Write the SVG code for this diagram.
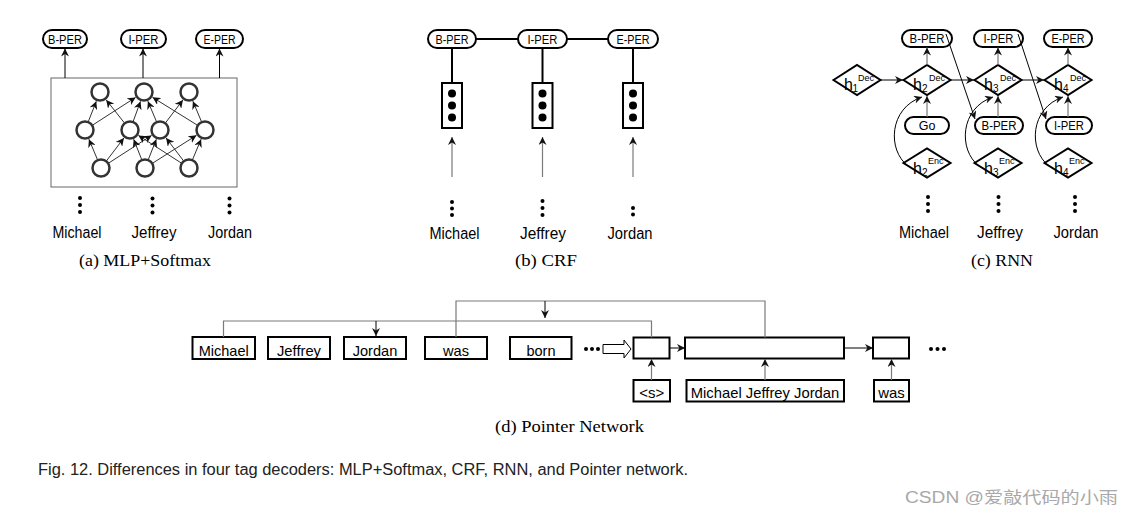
<svg xmlns="http://www.w3.org/2000/svg" width="1132" height="515" viewBox="0 0 1132 515">
<defs>
<marker id="ah" viewBox="0 0 10 10" refX="10" refY="5" markerWidth="8" markerHeight="8" orient="auto" markerUnits="userSpaceOnUse"><path d="M0,0 L10,5 L0,10 L3,5 z" fill="#111"/></marker>
<style>
.pill{fill:#fff;stroke:#000;stroke-width:2}
.box{fill:#fff;stroke:#000;stroke-width:2}
.t{font-family:"Liberation Sans",Arial,sans-serif;fill:#000}
.pt{font-size:12.5px}
.wd{font-size:16px}
.neu{fill:#fff;stroke:#333;stroke-width:2.5}
.e{stroke:#333;stroke-width:1;fill:none;marker-end:url(#ah)}
.g{stroke:#7a7a7a;stroke-width:1.2;fill:none}
.ga{stroke:#7a7a7a;stroke-width:1.2;fill:none;marker-end:url(#ah)}
.ka{stroke:#000;stroke-width:1;fill:none;marker-end:url(#ah)}
.k2{stroke:#000;stroke-width:2;fill:none}
.dm{fill:#fff;stroke:#000;stroke-width:2}
.sub{font-family:"Liberation Serif","Times New Roman",serif;font-size:17px;fill:#000}
.dot{fill:#000}
</style>
</defs>
<rect width="1132" height="515" fill="#fff"/>

<!-- (a) MLP+Softmax -->
<g id="mlp">
<rect x="51" y="78" width="186" height="109" fill="#fff" stroke="#666" stroke-width="1"/>
<g id="mlp-edges">
<line class="e" x1="88.3" y1="121.6" x2="96.3" y2="101.3"/>
<line class="e" x1="92.6" y1="125.1" x2="135.6" y2="97.4"/>
<line class="e" x1="124.4" y1="122.9" x2="106.2" y2="99.9"/>
<line class="e" x1="133.1" y1="121.6" x2="140.5" y2="101.4"/>
<line class="e" x1="156.5" y1="121.7" x2="147.9" y2="101.2"/>
<line class="e" x1="165.5" y1="122.8" x2="182.9" y2="100"/>
<line class="e" x1="197.4" y1="125.2" x2="152.5" y2="97.3"/>
<line class="e" x1="201.5" y1="121.7" x2="192.9" y2="101.2"/>
<line class="e" x1="97.5" y1="159.7" x2="88.9" y2="139.2"/>
<line class="e" x1="106.5" y1="160.8" x2="123.9" y2="138"/>
<line class="e" x1="108.6" y1="163.1" x2="151.6" y2="135.4"/>
<line class="e" x1="141.7" y1="159.6" x2="133.7" y2="139.3"/>
<line class="e" x1="148.3" y1="159.6" x2="156.3" y2="139.3"/>
<line class="e" x1="152.6" y1="163.2" x2="196.5" y2="135.3"/>
<line class="e" x1="181.4" y1="163.1" x2="138.4" y2="135.4"/>
<line class="e" x1="183.5" y1="160.8" x2="166.1" y2="138"/>
<line class="e" x1="192.5" y1="159.7" x2="201.1" y2="139.2"/>
</g>
<g id="mlp-neurons">
<circle class="neu" cx="100" cy="92" r="8.5"/>
<circle class="neu" cx="144" cy="92" r="8.5"/>
<circle class="neu" cx="189" cy="92" r="8.5"/>
<circle class="neu" cx="85" cy="130" r="8.5"/>
<circle class="neu" cx="130" cy="130" r="8.5"/>
<circle class="neu" cx="160" cy="130" r="8.5"/>
<circle class="neu" cx="205" cy="130" r="8.5"/>
<circle class="neu" cx="101" cy="168" r="8.5"/>
<circle class="neu" cx="145" cy="168" r="8.5"/>
<circle class="neu" cx="189" cy="168" r="8.5"/>
</g>
</g>
<g id="mlp-bper"><rect class="pill" x="43" y="30" width="44" height="18" rx="9"/><text class="t pt" x="65" y="43.5" text-anchor="middle" textLength="34" lengthAdjust="spacingAndGlyphs">B-PER</text></g>
<g id="mlp-iper"><rect class="pill" x="121" y="30" width="45" height="18" rx="9"/><text class="t pt" x="143.5" y="43.5" text-anchor="middle" textLength="30" lengthAdjust="spacingAndGlyphs">I-PER</text></g>
<g id="mlp-eper"><rect class="pill" x="196" y="30" width="47" height="18" rx="9"/><text class="t pt" x="219.5" y="43.5" text-anchor="middle" textLength="32" lengthAdjust="spacingAndGlyphs">E-PER</text></g>
<g id="mlp-words">
<circle class="dot" cx="80" cy="198" r="2"/><circle class="dot" cx="80" cy="205" r="2"/><circle class="dot" cx="80" cy="212" r="2"/>
<circle class="dot" cx="152.5" cy="198.5" r="2"/><circle class="dot" cx="152.5" cy="205.5" r="2"/><circle class="dot" cx="152.5" cy="212.5" r="2"/>
<circle class="dot" cx="229.5" cy="198.5" r="2"/><circle class="dot" cx="229.5" cy="205.5" r="2"/><circle class="dot" cx="229.5" cy="212.5" r="2"/>
<text class="t wd" x="77" y="238" text-anchor="middle" textLength="49" lengthAdjust="spacingAndGlyphs">Michael</text>
<text class="t wd" x="154" y="238" text-anchor="middle" textLength="45" lengthAdjust="spacingAndGlyphs">Jeffrey</text>
<text class="t wd" x="230" y="238" text-anchor="middle" textLength="44" lengthAdjust="spacingAndGlyphs">Jordan</text>
<text class="sub" x="145" y="266" text-anchor="middle" textLength="132" lengthAdjust="spacingAndGlyphs">(a)  MLP+Softmax</text>
</g>

<!-- (b) CRF -->
<g id="crf-bper"><rect class="pill" x="428" y="30" width="48" height="18" rx="9"/><text class="t pt" x="452" y="43.5" text-anchor="middle" textLength="33" lengthAdjust="spacingAndGlyphs">B-PER</text></g>
<g id="crf-iper"><rect class="pill" x="518" y="30" width="49" height="18" rx="9"/><text class="t pt" x="542.5" y="43.5" text-anchor="middle" textLength="30" lengthAdjust="spacingAndGlyphs">I-PER</text></g>
<g id="crf-eper"><rect class="pill" x="608" y="30" width="50" height="18" rx="9"/><text class="t pt" x="633" y="43.5" text-anchor="middle" textLength="33" lengthAdjust="spacingAndGlyphs">E-PER</text></g>
<g id="crf-f1"><rect class="box" x="442" y="83" width="20" height="45"/><circle class="dot" cx="452" cy="93.5" r="4"/><circle class="dot" cx="452" cy="105.5" r="4"/><circle class="dot" cx="452" cy="117.5" r="4"/></g>
<g id="crf-f2"><rect class="box" x="532.5" y="83" width="20" height="45"/><circle class="dot" cx="542.5" cy="93.5" r="4"/><circle class="dot" cx="542.5" cy="105.5" r="4"/><circle class="dot" cx="542.5" cy="117.5" r="4"/></g>
<g id="crf-f3"><rect class="box" x="623" y="83" width="20" height="45"/><circle class="dot" cx="633" cy="93.5" r="4"/><circle class="dot" cx="633" cy="105.5" r="4"/><circle class="dot" cx="633" cy="117.5" r="4"/></g>
<g id="crf-words">
<circle class="dot" cx="452" cy="202" r="2"/><circle class="dot" cx="452" cy="208.5" r="2"/><circle class="dot" cx="452" cy="215" r="2"/>
<circle class="dot" cx="542.5" cy="201" r="2"/><circle class="dot" cx="542.5" cy="208" r="2"/><circle class="dot" cx="542.5" cy="215" r="2"/>
<circle class="dot" cx="633" cy="208" r="2"/><circle class="dot" cx="633" cy="214.5" r="2"/>
<text class="t wd" x="454.5" y="238.5" text-anchor="middle" textLength="50" lengthAdjust="spacingAndGlyphs">Michael</text>
<text class="t wd" x="543" y="238.5" text-anchor="middle" textLength="46" lengthAdjust="spacingAndGlyphs">Jeffrey</text>
<text class="t wd" x="630" y="238.5" text-anchor="middle" textLength="45" lengthAdjust="spacingAndGlyphs">Jordan</text>
<text class="sub" x="546" y="266" text-anchor="middle" textLength="62" lengthAdjust="spacingAndGlyphs">(b)  CRF</text>
</g>

<!-- (c) RNN -->
<g id="rnn-h1dec"><polygon class="dm" points="833.5,80 857,65 880.5,80 857,95"/><text class="t" x="844" y="90" font-size="16">h</text><text class="t" x="852.5" y="92" font-size="10">1</text><text class="t" x="858" y="81" font-size="9">Dec</text></g>
<g id="rnn-h2dec"><polygon class="dm" points="903.5,80 927,65 950.5,80 927,95"/><text class="t" x="913" y="90" font-size="16">h</text><text class="t" x="922" y="92" font-size="10">2</text><text class="t" x="929" y="81" font-size="9">Dec</text></g>
<g id="rnn-h3dec"><polygon class="dm" points="974.5,80 998,65 1021.5,80 998,95"/><text class="t" x="984" y="90" font-size="16">h</text><text class="t" x="993" y="92" font-size="10">3</text><text class="t" x="1000" y="81" font-size="9">Dec</text></g>
<g id="rnn-h4dec"><polygon class="dm" points="1044.5,80 1068,65 1091.5,80 1068,95"/><text class="t" x="1054" y="90" font-size="16">h</text><text class="t" x="1063" y="92" font-size="10">4</text><text class="t" x="1070" y="81" font-size="9">Dec</text></g>
<g id="rnn-h2enc"><polygon class="dm" points="903.5,163 927,148.5 950.5,163 927,177.5"/><text class="t" x="913" y="174" font-size="16">h</text><text class="t" x="922" y="176" font-size="10">2</text><text class="t" x="928" y="164" font-size="9">Enc</text></g>
<g id="rnn-h3enc"><polygon class="dm" points="974.5,163 998,148.5 1021.5,163 998,177.5"/><text class="t" x="984" y="174" font-size="16">h</text><text class="t" x="993" y="176" font-size="10">3</text><text class="t" x="999" y="164" font-size="9">Enc</text></g>
<g id="rnn-h4enc"><polygon class="dm" points="1044.5,163 1068,148.5 1091.5,163 1068,177.5"/><text class="t" x="1054" y="174" font-size="16">h</text><text class="t" x="1063" y="176" font-size="10">4</text><text class="t" x="1069" y="164" font-size="9">Enc</text></g>
<g id="rnn-out1"><rect class="pill" x="902" y="30" width="50" height="17" rx="8.5"/><text class="t pt" x="927" y="43" text-anchor="middle" textLength="35" lengthAdjust="spacingAndGlyphs">B-PER</text></g>
<g id="rnn-out2"><rect class="pill" x="974" y="30" width="49" height="17" rx="8.5"/><text class="t pt" x="998.5" y="43" text-anchor="middle" textLength="30" lengthAdjust="spacingAndGlyphs">I-PER</text></g>
<g id="rnn-out3"><rect class="pill" x="1044" y="30" width="48" height="17" rx="8.5"/><text class="t pt" x="1068" y="43" text-anchor="middle" textLength="33" lengthAdjust="spacingAndGlyphs">E-PER</text></g>
<g id="rnn-go"><rect class="pill" x="905" y="117" width="44" height="17" rx="8.5"/><text class="t pt" x="927" y="130" text-anchor="middle">Go</text></g>
<g id="rnn-in2"><rect class="pill" x="975" y="117" width="48" height="17" rx="8.5"/><text class="t pt" x="999" y="130" text-anchor="middle" textLength="35" lengthAdjust="spacingAndGlyphs">B-PER</text></g>
<g id="rnn-in3"><rect class="pill" x="1046" y="117" width="46" height="17" rx="8.5"/><text class="t pt" x="1069" y="130" text-anchor="middle" textLength="30" lengthAdjust="spacingAndGlyphs">I-PER</text></g>
<g id="rnn-words">
<circle class="dot" cx="928" cy="197" r="2"/><circle class="dot" cx="928" cy="204" r="2"/><circle class="dot" cx="928" cy="211" r="2"/>
<circle class="dot" cx="998.5" cy="197" r="2"/><circle class="dot" cx="998.5" cy="204" r="2"/><circle class="dot" cx="998.5" cy="211" r="2"/>
<circle class="dot" cx="1075" cy="197" r="2"/><circle class="dot" cx="1075" cy="204" r="2"/><circle class="dot" cx="1075" cy="211" r="2"/>
<text class="t wd" x="924" y="237.5" text-anchor="middle" textLength="50" lengthAdjust="spacingAndGlyphs">Michael</text>
<text class="t wd" x="1000" y="237.5" text-anchor="middle" textLength="46" lengthAdjust="spacingAndGlyphs">Jeffrey</text>
<text class="t wd" x="1076" y="237.5" text-anchor="middle" textLength="45" lengthAdjust="spacingAndGlyphs">Jordan</text>
<text class="sub" x="1002" y="266" text-anchor="middle" textLength="62" lengthAdjust="spacingAndGlyphs">(c)  RNN</text>
</g>

<!-- (d) Pointer Network -->
<g id="pn-michael"><rect class="box" x="192.5" y="337" width="62.5" height="22"/><text class="t" x="223.7" y="355.5" font-size="15" text-anchor="middle" textLength="50" lengthAdjust="spacingAndGlyphs">Michael</text></g>
<g id="pn-jeffrey"><rect class="box" x="268" y="337" width="62" height="22"/><text class="t" x="299" y="355.5" font-size="15" text-anchor="middle" textLength="44" lengthAdjust="spacingAndGlyphs">Jeffrey</text></g>
<g id="pn-jordan"><rect class="box" x="344" y="337" width="62" height="22"/><text class="t" x="375" y="355.5" font-size="15" text-anchor="middle" textLength="44.5" lengthAdjust="spacingAndGlyphs">Jordan</text></g>
<g id="pn-was"><rect class="box" x="425" y="337" width="62" height="22"/><text class="t" x="456" y="355.5" font-size="15" text-anchor="middle" textLength="26" lengthAdjust="spacingAndGlyphs">was</text></g>
<g id="pn-born"><rect class="box" x="510" y="337" width="61.5" height="22"/><text class="t" x="541" y="355.5" font-size="15" text-anchor="middle" textLength="29" lengthAdjust="spacingAndGlyphs">born</text></g>
<g id="pn-ellipsis1"><circle class="dot" cx="586" cy="349" r="2"/><circle class="dot" cx="592" cy="349" r="2"/><circle class="dot" cx="598" cy="349" r="2"/></g>
<g id="pn-hollow"><polygon points="603,344.5 624,344.5 624,340 631,349 624,358 624,353.5 603,353.5" fill="#fff" stroke="#000" stroke-width="1"/></g>
<g id="pn-dec1"><rect class="box" x="633.5" y="337.5" width="36" height="21"/></g>
<g id="pn-dec2"><rect class="box" x="685" y="337.5" width="159" height="21"/></g>
<g id="pn-dec3"><rect class="box" x="873" y="337.5" width="36" height="21"/></g>
<g id="pn-ellipsis2"><circle class="dot" cx="931" cy="349" r="2"/><circle class="dot" cx="937.5" cy="349" r="2"/><circle class="dot" cx="944" cy="349" r="2"/></g>
<g id="pn-in1"><rect class="box" x="633.5" y="380" width="36.5" height="21.5"/><text class="t" x="651.7" y="398" font-size="15" text-anchor="middle" textLength="25" lengthAdjust="spacingAndGlyphs">&lt;s&gt;</text></g>
<g id="pn-in2"><rect class="box" x="686.5" y="380" width="157.5" height="21.5"/><text class="t" x="765" y="398" font-size="15" text-anchor="middle" textLength="148.5" lengthAdjust="spacingAndGlyphs">Michael Jeffrey Jordan</text></g>
<g id="pn-in3"><rect class="box" x="874" y="380" width="35" height="21.5"/><text class="t" x="891.5" y="398" font-size="15" text-anchor="middle" textLength="26.5" lengthAdjust="spacingAndGlyphs">was</text></g>
<text class="sub" x="569.5" y="432" text-anchor="middle" textLength="149" lengthAdjust="spacingAndGlyphs">(d)  Pointer Network</text>

<!-- connectors -->
<g id="connectors">
<line class="ka" x1="65" y1="78" x2="65" y2="48.5"/>
<line class="ka" x1="143" y1="78" x2="143" y2="48.5"/>
<line class="ka" x1="219.5" y1="78" x2="219.5" y2="48.5"/>

<line class="k2" x1="476" y1="39" x2="518" y2="39"/>
<line class="k2" x1="567" y1="39" x2="608" y2="39"/>
<line class="k2" x1="452" y1="48" x2="452" y2="83"/>
<line class="k2" x1="542.5" y1="48" x2="542.5" y2="83"/>
<line class="k2" x1="633" y1="48" x2="633" y2="83"/>
<line class="ga" x1="452" y1="177" x2="452" y2="137"/>
<line class="ga" x1="542.5" y1="177" x2="542.5" y2="137"/>
<line class="ga" x1="633" y1="177" x2="633" y2="137"/>

<line class="ka" x1="880.5" y1="80" x2="903" y2="80"/>
<line class="ka" x1="950.5" y1="80" x2="974" y2="80"/>
<line class="ka" x1="1021.5" y1="80" x2="1044" y2="80"/>
<line class="ga" x1="927" y1="65" x2="927" y2="47.5"/>
<line class="ga" x1="998" y1="65" x2="998" y2="47.5"/>
<line class="ga" x1="1068" y1="65" x2="1068" y2="47.5"/>
<line class="ga" x1="927" y1="117" x2="927" y2="96"/>
<line class="ga" x1="998" y1="117" x2="998" y2="96"/>
<line class="ga" x1="1068" y1="117" x2="1068" y2="96"/>
<path class="ka" d="M908,166 C887,150 889,108 922,97"/>
<path class="ka" d="M979,166 C958,150 960,108 993,97"/>
<path class="ka" d="M1049,166 C1028,150 1030,108 1063,97"/>
<line class="ka" x1="946" y1="34" x2="975" y2="119"/>
<line class="ka" x1="1018" y1="34" x2="1046" y2="119"/>

<polyline class="g" points="223.5,337 223.5,321 651.5,321 651.5,337.5"/>
<line class="ka" x1="376" y1="321" x2="376" y2="336"/>
<polyline class="g" points="456,337 456,301 765,301 765,337.5"/>
<line class="ka" x1="545" y1="301" x2="545" y2="318"/>
<line class="ka" x1="669.5" y1="348" x2="685" y2="348"/>
<line class="ka" x1="844" y1="348" x2="873" y2="348"/>
<line class="ga" x1="651.5" y1="380" x2="651.5" y2="359"/>
<line class="ga" x1="765" y1="380" x2="765" y2="359"/>
<line class="ga" x1="891.5" y1="380" x2="891.5" y2="359"/>
</g>

<text x="38" y="475" font-family="'Liberation Sans',Arial,sans-serif" font-size="16" fill="#222" textLength="650" lengthAdjust="spacingAndGlyphs">Fig. 12. Differences in four tag decoders: MLP+Softmax, CRF, RNN, and Pointer network.</text>
<text x="905" y="503" font-family="'Liberation Sans','Noto Sans CJK SC',sans-serif" font-size="16" fill="#a8a8a8" textLength="213" lengthAdjust="spacingAndGlyphs">CSDN @爱敲代码的小雨</text>
</svg>
